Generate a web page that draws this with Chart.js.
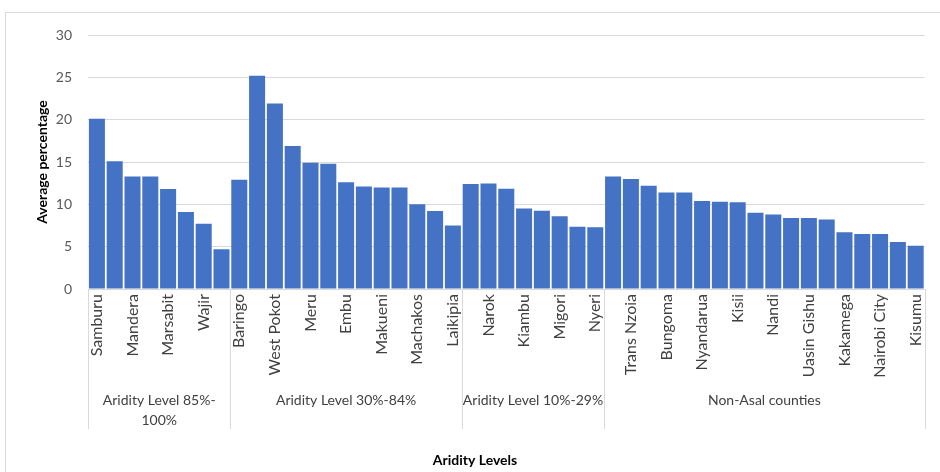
<!DOCTYPE html>
<html>
<head>
<meta charset="utf-8">
<script src="https://cdn.jsdelivr.net/npm/chart.js@4.4.1/dist/chart.umd.min.js"></script>
<style>
  html, body { margin: 0; padding: 0; background: #ffffff; }
  #wrap { width: 940px; height: 472px; position: relative; }
</style>
</head>
<body>
<div id="wrap"><canvas id="c"></canvas></div>
<script>
// Counties ordered within each aridity group (every other name is printed on the axis)
const counties = [
  'Samburu', 'Turkana', 'Mandera', 'Garissa', 'Marsabit', 'Isiolo', 'Wajir', 'Tana River',
  'Baringo', 'Kitui', 'West Pokot', 'Kajiado', 'Meru', 'Tharaka Nithi', 'Embu', 'Taita Taveta',
  'Makueni', 'Kilifi', 'Machakos', 'Lamu', 'Laikipia',
  'Kwale', 'Narok', 'Nakuru', 'Kiambu', 'Homa Bay', 'Migori', 'Elgeyo Marakwet', 'Nyeri',
  'Kirinyaga', 'Trans Nzoia', "Murang'a", 'Bungoma', 'Nyamira', 'Nyandarua', 'Vihiga', 'Kisii',
  'Busia', 'Nandi', 'Siaya', 'Uasin Gishu', 'Kericho', 'Kakamega', 'Bomet', 'Nairobi City',
  'Mombasa', 'Kisumu'
];

// Average percentage per county
const averagePercentage = [
  20.1, 15.1, 13.3, 13.3, 11.8, 9.1, 7.7, 4.7,
  12.9, 25.2, 21.9, 16.9, 14.9, 14.8, 12.6, 12.1, 12.0, 12.0, 10.0, 9.2, 7.5,
  12.4, 12.45, 11.85, 9.5, 9.25, 8.6, 7.35, 7.3,
  13.3, 13.0, 12.2, 11.4, 11.4, 10.4, 10.3, 10.25, 9.0, 8.8, 8.4, 8.4, 8.2, 6.7, 6.5, 6.5, 5.55, 5.1
];

// Aridity groups and how many counties fall in each
const aridityGroups = ['Aridity Level 85%-100%', 'Aridity Level 30%-84%', 'Aridity Level 10%-29%', 'Non-Asal counties'];
const groupSizes = [8, 13, 8, 18];

const yTicks = [0, 5, 10, 15, 20, 25, 30];

const FONT = 'Lato, "Open Sans", sans-serif';
const TEXT = '#404040';
const GRID = '#d9d9d9';

// Wrap a label to fit a width, breaking after spaces or hyphens
function wrapText(ctx, text, maxW) {
  const parts = text.match(/[^\s-]+-?\s*/g) || [text];
  const lines = [];
  let cur = '';
  for (const p of parts) {
    const trial = cur + p;
    if (cur && ctx.measureText(trial.trim()).width > maxW) {
      lines.push(cur.trim());
      cur = p;
    } else {
      cur = trial;
    }
  }
  if (cur.trim()) lines.push(cur.trim());
  return lines;
}

// Chart frame, group band under the axis, and the two axis titles
const decorations = {
  id: 'decorations',
  beforeDraw(chart) {
    const ctx = chart.ctx;
    ctx.save();
    ctx.strokeStyle = GRID;
    ctx.lineWidth = 1;
    ctx.strokeRect(5.5, 12.5, 960, 480);
    ctx.restore();
  },
  afterDraw(chart) {
    const ctx = chart.ctx;
    const x = chart.scales.x;
    const area = chart.chartArea;
    const n = counties.length;
    const step = (x.right - x.left) / n;
    const bandBottom = 429;

    ctx.save();
    ctx.strokeStyle = GRID;
    ctx.lineWidth = 1;
    ctx.font = '14px ' + FONT;
    ctx.fillStyle = TEXT;
    ctx.textAlign = 'center';
    ctx.textBaseline = 'middle';

    let start = 0;
    const edges = [];
    for (let g = 0; g < groupSizes.length; g++) {
      const end = start + groupSizes[g] - 1;
      const left = x.getPixelForValue(start) - step / 2;
      const right = x.getPixelForValue(end) + step / 2;
      edges.push(left, right);
      const lines = wrapText(ctx, aridityGroups[g], right - left - 1);
      lines.forEach((ln, i) => ctx.fillText(ln, (left + right) / 2, 400 + i * 20));
      start = end + 1;
    }
    [...new Set(edges.map(e => Math.round(e)))].forEach(px => {
      ctx.beginPath();
      ctx.moveTo(px + 0.5, area.bottom);
      ctx.lineTo(px + 0.5, bandBottom);
      ctx.stroke();
    });

    // Axis titles
    ctx.font = 'bold 14px ' + FONT;
    ctx.fillStyle = '#000000';
    ctx.fillText('Aridity Levels', 475, 460);
    ctx.translate(42, (area.top + area.bottom) / 2);
    ctx.rotate(-Math.PI / 2);
    ctx.fillText('Average percentage', 0, 0);
    ctx.restore();
  }
};

new Chart(document.getElementById('c'), {
  type: 'bar',
  data: {
    labels: counties,
    datasets: [{
      label: 'Average percentage',
      data: averagePercentage,
      backgroundColor: '#4472C4',
      barPercentage: 0.9,
      categoryPercentage: 1.0
    }]
  },
  options: {
    responsive: true,
    maintainAspectRatio: false,
    animation: false,
    layout: { padding: { left: 0, top: 35, right: 12, bottom: 0 } },
    plugins: {
      legend: { display: false },
      tooltip: { enabled: false }
    },
    scales: {
      x: {
        grid: { display: false, drawTicks: false },
        border: { display: false },
        ticks: {
          autoSkip: false,
          minRotation: 90,
          maxRotation: 90,
          padding: 5,
          color: TEXT,
          font: { family: FONT, size: 16 },
          callback: function (value, index) {
            return index % 2 === 0 ? counties[index] : '';
          }
        },
        afterFit(scale) { scale.height = 183; }
      },
      y: {
        min: 0,
        max: 30,
        grid: { color: GRID, drawTicks: false },
        border: { display: false },
        afterBuildTicks(scale) { scale.ticks = yTicks.map(v => ({ value: v })); },
        ticks: {
          padding: 16,
          color: '#595959',
          font: { family: FONT, size: 14 }
        },
        afterFit(scale) { scale.width = 88; }
      }
    }
  },
  plugins: [decorations]
});
</script>
</body>
</html>
